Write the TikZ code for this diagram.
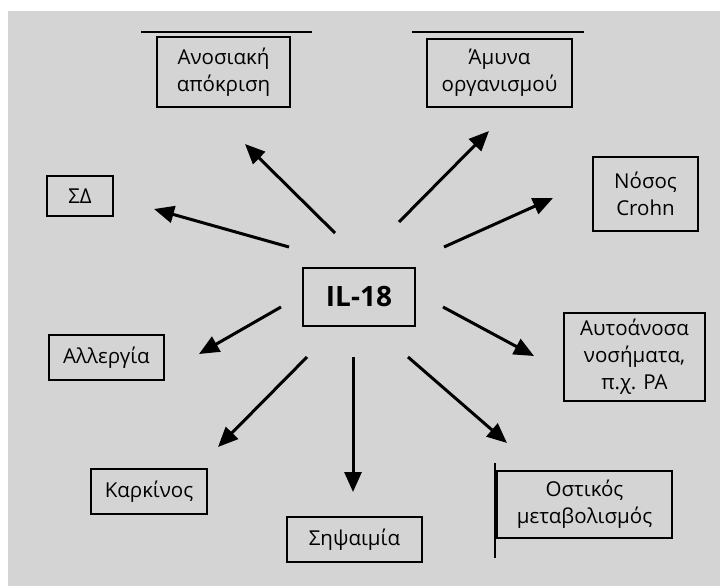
\documentclass[tikz,border=0pt]{standalone}
\usepackage{fontspec}
\setmainfont{Open Sans}
\usetikzlibrary{arrows.meta}
\tikzset{
	box/.style={draw=black, line width=2.7pt, align=center, inner sep=2pt,
		font=\fontsize{20.5}{27}\selectfont},
	arr/.style={line width=3pt, -{Triangle[length=20pt,width=17pt]}},
	rule/.style={line width=1.5pt}
}
\begin{document}
\begin{tikzpicture}[x=1pt,y=-1pt]
	\useasboundingbox (0,0) rectangle (720,586);
	\fill[white] (0,0) rectangle (720,586);
	\fill[black!17] (8,11) rectangle (720,586);

	\node[box, minimum width=112pt, minimum height=58pt,
		font=\fontsize{28}{30}\selectfont\bfseries] (il) at (359,297) {IL-18};
	\node[box, minimum width=133pt, minimum height=70pt] (anos) at (223.5,72) {Ανοσιακή\\απόκριση};
	\node[box, minimum width=145pt, minimum height=68pt] (amyna) at (499.5,73) {Άμυνα\\οργανισμού};
	\node[box, minimum width=66pt, minimum height=40pt] (sd) at (80,196) {ΣΔ};
	\node[box, minimum width=105pt, minimum height=74pt] (crohn) at (645.5,194) {Νόσος\\Crohn};
	\node[box, minimum width=115pt, minimum height=45pt] (allerg) at (106.5,357.5) {Αλλεργία};
	\node[box, minimum width=141pt, minimum height=88pt] (auto) at (634.5,357) {Αυτοάνοσα\\νοσήματα,\\π.χ. PA};
	\node[box, minimum width=116pt, minimum height=45pt] (kark) at (149,491.5) {Καρκίνος};
	\node[box, minimum width=135pt, minimum height=45pt] (sips) at (354.5,539.5) {Σηψαιμία};
	\node[box, minimum width=175pt, minimum height=67pt] (ost) at (584.5,504.5) {Οστικός\\μεταβολισμός};

	% lines beside the boxes
	\coordinate (la1) at (141,32);
	\coordinate (la2) at (312,32);
	\coordinate (lb1) at (412,32);
	\coordinate (lb2) at (584,32);
	\coordinate (lc1) at (495,463);
	\coordinate (lc2) at (495,558);
	\draw[rule] (la1) -- (la2);
	\draw[rule] (lb1) -- (lb2);
	\draw[rule] (lc1) -- (lc2);

	% arrow ends
	\coordinate (t1) at (335,233); \coordinate (h1) at (245,144);
	\coordinate (t2) at (289,247); \coordinate (h2) at (154,209);
	\coordinate (t3) at (399,222); \coordinate (h3) at (489,131);
	\coordinate (t4) at (444,247); \coordinate (h4) at (553,198);
	\coordinate (t5) at (281,307); \coordinate (h5) at (199,354);
	\coordinate (t6) at (307,357); \coordinate (h6) at (218,447);
	\coordinate (t7) at (353,357); \coordinate (h7) at (353,492);
	\coordinate (t8) at (443,307); \coordinate (h8) at (534,356);
	\coordinate (t9) at (408,357); \coordinate (h9) at (507,443);
	\foreach \i in {1,...,9}
		\draw[arr] (t\i) -- (h\i);
\end{tikzpicture}
\end{document}
